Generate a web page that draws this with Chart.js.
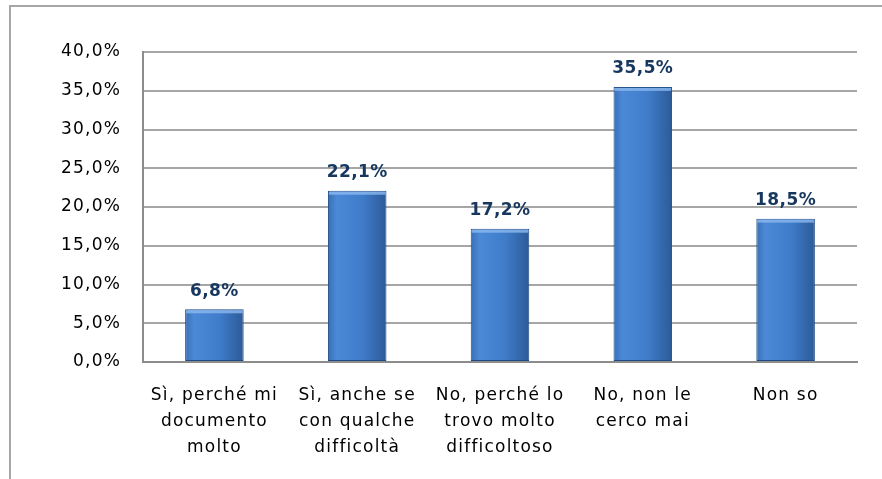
<!DOCTYPE html>
<html lang="it">
<head>
    <meta charset="UTF-8">
    <title>Risposte</title>
    <script src="https://cdn.jsdelivr.net/npm/chart.js"></script>
    <style>
        html, body { margin: 0; padding: 0; background: #fff; }
        .frame {
            position: absolute; left: 9px; top: 5px;
            width: 900px; height: 500px;
            border: 2px solid #a6a6a6;
        }
        .chart-container {
            position: absolute; left: 0; top: 0;
            width: 882px; height: 479px;
        }
    </style>
</head>
<body>
    <div class="frame"></div>
    <div class="chart-container">
        <canvas id="answersChart"></canvas>
    </div>

    <script>
        const categories = [
            ['Sì, perché mi', 'documento', 'molto'],
            ['Sì, anche se', 'con qualche', 'difficoltà'],
            ['No, perché lo', 'trovo molto', 'difficoltoso'],
            ['No, non le', 'cerco mai'],
            'Non so'
        ];
        const percentages = [6.8, 22.1, 17.2, 35.5, 18.5];
        const yTicks = [0, 5, 10, 15, 20, 25, 30, 35, 40];

        const fmt = v => v.toFixed(1).replace('.', ',') + '%';
        const FONT = '"DejaVu Sans", Arial, sans-serif';

        function barFill(context) {
            const chart = context.chart;
            const xs = chart.scales.x;
            if (!xs || context.dataIndex === undefined) return '#3f78c4';
            const cx = xs.getPixelForValue(context.dataIndex);
            const half = xs.width / categories.length * 0.41 / 2;
            if (!Number.isFinite(cx) || !Number.isFinite(half) || half <= 0) return '#3f78c4';
            const g = chart.ctx.createLinearGradient(cx - half, 0, cx + half, 0);
            g.addColorStop(0, '#3a6fb5');
            g.addColorStop(0.15, '#4b89d6');
            g.addColorStop(0.6, '#3f7bc8');
            g.addColorStop(1, '#2c5a98');
            return g;
        }

        // the original text is drawn a bit wider than DejaVu, so space the letters out
        const wideText = {
            id: 'wideText',
            beforeDraw(chart) { chart.ctx.letterSpacing = '1.2px'; }
        };

        const valueLabels = {
            id: 'valueLabels',
            afterDatasetsDraw(chart) {
                const ctx = chart.ctx;
                const meta = chart.getDatasetMeta(0);
                ctx.save();
                ctx.font = 'bold 17px ' + FONT;
                ctx.letterSpacing = '0.4px';
                ctx.textAlign = 'center';
                ctx.textBaseline = 'middle';
                meta.data.forEach((bar, i) => {
                    // light strip on top of each bar
                    ctx.fillStyle = 'rgba(140,185,240,0.8)';
                    ctx.fillRect(bar.x - bar.width / 2 + 1, bar.y + 1, bar.width - 2, 3);
                    ctx.fillStyle = '#17375e';
                    ctx.fillText(fmt(percentages[i]), bar.x, bar.y - 18);
                });
                ctx.restore();
            }
        };

        const ctx = document.getElementById('answersChart').getContext('2d');
        new Chart(ctx, {
            type: 'bar',
            data: {
                labels: categories,
                datasets: [{
                    data: percentages,
                    backgroundColor: barFill,
                    borderColor: '#1f4a85',
                    borderWidth: 1,
                    borderSkipped: false,
                    barPercentage: 0.82,
                    categoryPercentage: 0.5
                }]
            },
            options: {
                responsive: true,
                maintainAspectRatio: false,
                animation: false,
                layout: { padding: { left: 0, right: 25, top: 52, bottom: 0 } },
                plugins: {
                    legend: { display: false },
                    tooltip: { enabled: false }
                },
                scales: {
                    x: {
                        grid: { display: false, drawTicks: false },
                        border: { display: true, color: '#8c8c8c', width: 2 },
                        ticks: {
                            color: '#000',
                            padding: 21,
                            maxRotation: 0,
                            autoSkip: false,
                            font: { family: FONT, size: 17, lineHeight: 1.53 }
                        },
                        afterFit(scale) { scale.height = 117; }
                    },
                    y: {
                        min: 0,
                        max: 40,
                        afterBuildTicks(scale) { scale.ticks = yTicks.map(v => ({ value: v })); },
                        grid: { color: '#a6a6a6', lineWidth: 2, drawTicks: false },
                        border: { display: true, color: '#8c8c8c', width: 2 },
                        ticks: {
                            color: '#000',
                            padding: 22,
                            callback: v => fmt(v),
                            font: { family: FONT, size: 17 }
                        },
                        afterFit(scale) { scale.width = 143; }
                    }
                }
            },
            plugins: [wideText, valueLabels]
        });
    </script>
</body>
</html>
